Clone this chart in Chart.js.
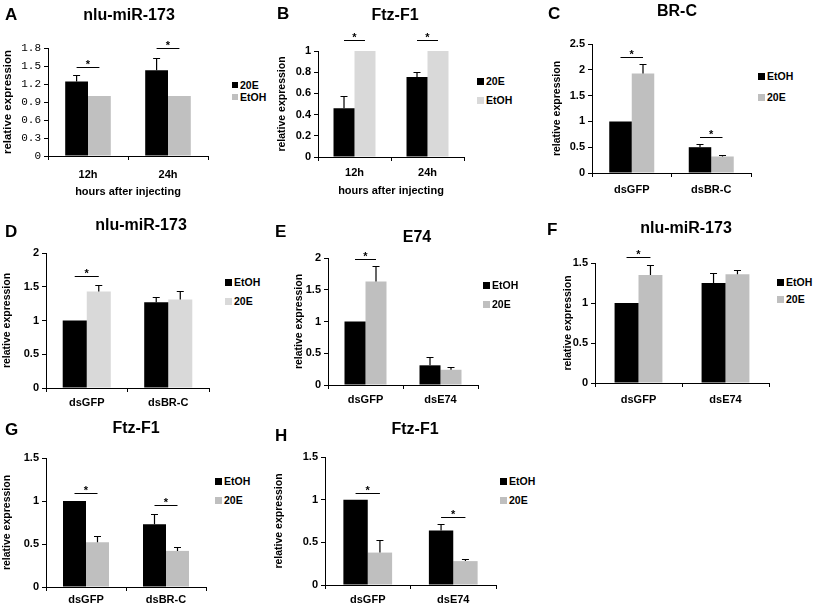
<!DOCTYPE html>
<html>
<head>
<meta charset="utf-8">
<script src="https://cdn.jsdelivr.net/npm/chart.js@4.4.1/dist/chart.umd.min.js"></script>
<style>
body { margin:0; background:#fff; width:819px; height:616px; position:relative; overflow:hidden;
       font-family:"Liberation Sans", Arial, sans-serif; font-weight:bold; color:#000; }
canvas { position:absolute; }
.title { position:absolute; transform:translate(-50%,-50%); font-size:16px; white-space:nowrap; }
.letter { position:absolute; transform:translateY(-50%); font-size:17px; }
.sw { position:absolute; }
.lg { position:absolute; transform:translateY(-50%); font-size:10.5px; white-space:nowrap; }
</style>
</head>
<body>
<script>
const FONT = '"Liberation Sans", Arial, sans-serif';

// categories
const catsTime = ['12h', '24h'];
const catsBR = ['dsGFP', 'dsBR-C'];
const catsE74 = ['dsGFP', 'dsE74'];

// y tick labels
const ticksA = [0, 0.3, 0.6, 0.9, 1.2, 1.5, 1.8];
const ticksB = [0, 0.2, 0.4, 0.6, 0.8, 1];
const ticksC = [0, 0.5, 1, 1.5, 2, 2.5];
const ticksDE = [0, 0.5, 1, 1.5, 2];
const ticksFGH = [0, 0.5, 1, 1.5];

// A - nlu-miR-173 over time
const a20E = [1.24, 1.43], a20Eerr = [0.11, 0.20];
const aEtOH = [1, 1], aEtOHerr = [0, 0];
const sigA = [1.49, 1.8];
// B - Ftz-F1 over time
const b20E = [0.46, 0.755], b20Eerr = [0.12, 0.045];
const bEtOH = [1, 1], bEtOHerr = [0, 0];
const sigB = [1.1, 1.1];
// C - BR-C
const cEtOH = [1, 0.50], cEtOHerr = [0, 0.07];
const c20E = [1.93, 0.32], c20Eerr = [0.19, 0.02];
const sigC = [2.25, 0.70];
// D - nlu-miR-173 after dsBR-C
const dEtOH = [1, 1.27], dEtOHerr = [0, 0.08];
const d20E = [1.43, 1.31], d20Eerr = [0.09, 0.13];
const sigD = [1.66, null];
// E - E74
const eEtOH = [1, 0.31], eEtOHerr = [0, 0.13];
const e20E = [1.63, 0.24], e20Eerr = [0.25, 0.04];
const sigE = [1.98, null];
// F - nlu-miR-173 after dsE74
const fEtOH = [1, 1.25], fEtOHerr = [0, 0.12];
const f20E = [1.35, 1.36], f20Eerr = [0.12, 0.05];
const sigF = [1.57, null];
// G - Ftz-F1 after dsBR-C
const gEtOH = [1, 0.73], gEtOHerr = [0, 0.12];
const g20E = [0.52, 0.42], g20Eerr = [0.07, 0.05];
const sigG = [1.09, 0.95];
// H - Ftz-F1 after dsE74
const hEtOH = [1, 0.64], hEtOHerr = [0, 0.08];
const h20E = [0.38, 0.28], h20Eerr = [0.15, 0.03];
const sigH = [1.08, 0.80];

const BLACK = '#000000';
const GREY = '#bfbfbf';
const LIGHT = '#d9d9d9';

const panels = [
  { letter: 'A', letterAt: [5, 15], title: 'nlu-miR-173', titleAt: [129, 15],
    box: { left: 1, top: 24, axisX: 48, plotTop: 48, plotBottom: 156, right: 208, bottom: 199 },
    cats: catsTime, yMax: 1.8, yTicks: ticksA, mono: true, yTitleSize: 11.5, catPad: 8.4,
    xTitle: 'hours after injecting', barPct: 0.57, sig: sigA, legend: [232, 85, 12, 6],
    series: [ { label: '20E', data: a20E, err: a20Eerr, color: BLACK },
              { label: 'EtOH', data: aEtOH, err: aEtOHerr, color: '#c0c0c0' } ] },
  { letter: 'B', letterAt: [277, 14], title: 'Ftz-F1', titleAt: [395, 15],
    box: { left: 276, top: 27, axisX: 318, plotTop: 51, plotBottom: 157, right: 464, bottom: 198 },
    cats: catsTime, yMax: 1, yTicks: ticksB, catPad: 5.4,
    xTitle: 'hours after injecting', barPct: 0.575, sig: sigB, legend: [477, 81, 19, 7],
    series: [ { label: '20E', data: b20E, err: b20Eerr, color: BLACK },
              { label: 'EtOH', data: bEtOH, err: bEtOHerr, color: LIGHT } ] },
  { letter: 'C', letterAt: [548, 14], title: 'BR-C', titleAt: [677, 11],
    box: { left: 551, top: 20, axisX: 592, plotTop: 44, plotBottom: 173, right: 751, bottom: 199 },
    cats: catsBR, yMax: 2.5, yTicks: ticksC, catPad: 6.4,
    barPct: 0.566, sig: sigC, legend: [758, 76, 21, 7],
    series: [ { label: 'EtOH', data: cEtOH, err: cEtOHerr, color: BLACK },
              { label: '20E', data: c20E, err: c20Eerr, color: GREY } ] },
  { letter: 'D', letterAt: [5, 232], title: 'nlu-miR-173', titleAt: [141, 225],
    box: { left: 1, top: 229, axisX: 46, plotTop: 253, plotBottom: 388, right: 209, bottom: 412 },
    cats: catsBR, yMax: 2, yTicks: ticksDE, catPad: 4.4,
    barPct: 0.59, sig: sigD, legend: [225, 282, 19, 7],
    series: [ { label: 'EtOH', data: dEtOH, err: dEtOHerr, color: BLACK },
              { label: '20E', data: d20E, err: d20Eerr, color: LIGHT } ] },
  { letter: 'E', letterAt: [275, 232], title: 'E74', titleAt: [417, 237],
    box: { left: 293, top: 234, axisX: 328, plotTop: 258, plotBottom: 385, right: 478, bottom: 409 },
    cats: catsE74, yMax: 2, yTicks: ticksDE, catPad: 4.4,
    barPct: 0.56, sig: sigE, legend: [483, 285, 19, 7],
    series: [ { label: 'EtOH', data: eEtOH, err: eEtOHerr, color: BLACK },
              { label: '20E', data: e20E, err: e20Eerr, color: GREY } ] },
  { letter: 'F', letterAt: [547, 230], title: 'nlu-miR-173', titleAt: [686, 228],
    box: { left: 562, top: 239, axisX: 595, plotTop: 263, plotBottom: 383, right: 769, bottom: 409 },
    cats: catsE74, yMax: 1.5, yTicks: ticksFGH, catPad: 6.4,
    barPct: 0.55, sig: sigF, legend: [777, 282, 17, 7],
    series: [ { label: 'EtOH', data: fEtOH, err: fEtOHerr, color: BLACK },
              { label: '20E', data: f20E, err: f20Eerr, color: GREY } ] },
  { letter: 'G', letterAt: [5, 430], title: 'Ftz-F1', titleAt: [136, 428],
    box: { left: 1, top: 434, axisX: 46, plotTop: 458, plotBottom: 587, right: 206, bottom: 609 },
    cats: catsBR, yMax: 1.5, yTicks: ticksFGH, catPad: 2.4,
    barPct: 0.575, sig: sigG, legend: [215, 481, 19, 7],
    series: [ { label: 'EtOH', data: gEtOH, err: gEtOHerr, color: BLACK },
              { label: '20E', data: g20E, err: g20Eerr, color: GREY } ] },
  { letter: 'H', letterAt: [275, 436], title: 'Ftz-F1', titleAt: [415, 429],
    box: { left: 273, top: 433, axisX: 325, plotTop: 457, plotBottom: 585, right: 496, bottom: 609 },
    cats: catsE74, yMax: 1.5, yTicks: ticksFGH, catPad: 4.4,
    barPct: 0.57, sig: sigH, legend: [500, 481, 19, 7],
    series: [ { label: 'EtOH', data: hEtOH, err: hEtOHerr, color: BLACK },
              { label: '20E', data: h20E, err: h20Eerr, color: GREY } ] }
];

// error bars: only the upper whisker with a cap
const errPlugin = {
  id: 'errbars',
  afterDatasetsDraw(chart) {
    const ctx = chart.ctx, y = chart.scales.y;
    ctx.save();
    ctx.strokeStyle = '#000';
    ctx.lineWidth = 1.2;
    chart.data.datasets.forEach((ds, i) => {
      chart.getDatasetMeta(i).data.forEach((bar, j) => {
        const e = ds.err[j];
        if (!e) return;
        const yt = Math.round(y.getPixelForValue(ds.data[j] + e)) + 0.5;
        ctx.beginPath();
        ctx.moveTo(bar.x, bar.y);
        ctx.lineTo(bar.x, yt);
        ctx.moveTo(bar.x - 3.5, yt);
        ctx.lineTo(bar.x + 3.5, yt);
        ctx.stroke();
      });
    });
    ctx.restore();
  }
};

// significance line + asterisk between the two bars of a group
function sigPlugin(levels) {
  return {
    id: 'sig',
    afterDatasetsDraw(chart) {
      const ctx = chart.ctx, y = chart.scales.y;
      const m0 = chart.getDatasetMeta(0).data, m1 = chart.getDatasetMeta(1).data;
      ctx.save();
      ctx.strokeStyle = '#000';
      ctx.fillStyle = '#000';
      ctx.lineWidth = 1;
      ctx.font = 'bold 11px ' + FONT;
      ctx.textAlign = 'center';
      ctx.textBaseline = 'middle';
      levels.forEach((lv, j) => {
        if (lv == null) return;
        const yy = Math.round(y.getPixelForValue(lv)) + 0.5;
        ctx.beginPath();
        ctx.moveTo(m0[j].x, yy);
        ctx.lineTo(m1[j].x, yy);
        ctx.stroke();
        ctx.fillText('*', (m0[j].x + m1[j].x) / 2, yy - 3);
      });
      ctx.restore();
    }
  };
}

function addText(cls, text, x, y) {
  const d = document.createElement('div');
  d.className = cls;
  d.textContent = text;
  d.style.left = x + 'px';
  d.style.top = y + 'px';
  document.body.appendChild(d);
}

function buildPanel(p) {
  const b = p.box;
  const cv = document.createElement('canvas');
  cv.width = b.right + 3 - b.left;
  cv.height = b.bottom - b.top;
  cv.style.left = b.left + 'px';
  cv.style.top = b.top + 'px';
  document.body.appendChild(cv);

  const tickFont = p.mono
    ? { family: '"Liberation Mono", monospace', size: 11 }
    : { family: FONT, size: 11, weight: 'bold' };

  new Chart(cv, {
    type: 'bar',
    data: {
      labels: p.cats,
      datasets: p.series.map(s => ({
        label: s.label, data: s.data, err: s.err,
        backgroundColor: s.color, borderWidth: 0,
        barPercentage: 1, categoryPercentage: p.barPct
      }))
    },
    options: {
      responsive: false,
      animation: false,
      devicePixelRatio: 1,
      layout: { padding: { top: b.plotTop - b.top, right: 3, left: 0, bottom: 0 } },
      plugins: { legend: { display: false }, tooltip: { enabled: false } },
      scales: {
        x: {
          grid: { drawOnChartArea: false, tickLength: 4, color: '#000' },
          border: { color: '#000', width: 1 },
          ticks: { color: '#000', font: { family: FONT, size: 11, weight: 'bold' }, padding: p.catPad, maxRotation: 0 },
          title: { display: !!p.xTitle, text: p.xTitle || '', color: '#000',
                   font: { family: FONT, size: 11, weight: 'bold' }, padding: 0 },
          afterFit(s) { s.height = b.bottom - b.plotBottom; }
        },
        y: {
          min: 0, max: p.yMax,
          afterBuildTicks(s) { s.ticks = p.yTicks.map(v => ({ value: v })); },
          ticks: { color: '#000', font: tickFont, padding: 3, callback: v => String(v) },
          grid: { drawOnChartArea: false, tickLength: 4, color: '#000' },
          border: { color: '#000', width: 1 },
          title: { display: true, text: 'relative expression', color: '#000',
                   font: { family: FONT, size: p.yTitleSize || 10.5, weight: 'bold' }, padding: 0 },
          afterFit(s) { s.width = b.axisX - b.left; }
        }
      }
    },
    plugins: [errPlugin, sigPlugin(p.sig)]
  });

  addText('letter', p.letter, p.letterAt[0], p.letterAt[1]);
  addText('title', p.title, p.titleAt[0], p.titleAt[1]);

  const [lx, ly, gap, sq] = p.legend;
  p.series.forEach((s, k) => {
    const cy = ly + k * gap;
    const sw = document.createElement('div');
    sw.className = 'sw';
    sw.style.left = lx + 'px';
    sw.style.top = (cy - sq / 2) + 'px';
    sw.style.width = sq + 'px';
    sw.style.height = sq + 'px';
    sw.style.background = s.color;
    document.body.appendChild(sw);
    addText('lg', s.label, lx + sq + 2, cy);
  });
}

panels.forEach(buildPanel);
</script>
</body>
</html>
